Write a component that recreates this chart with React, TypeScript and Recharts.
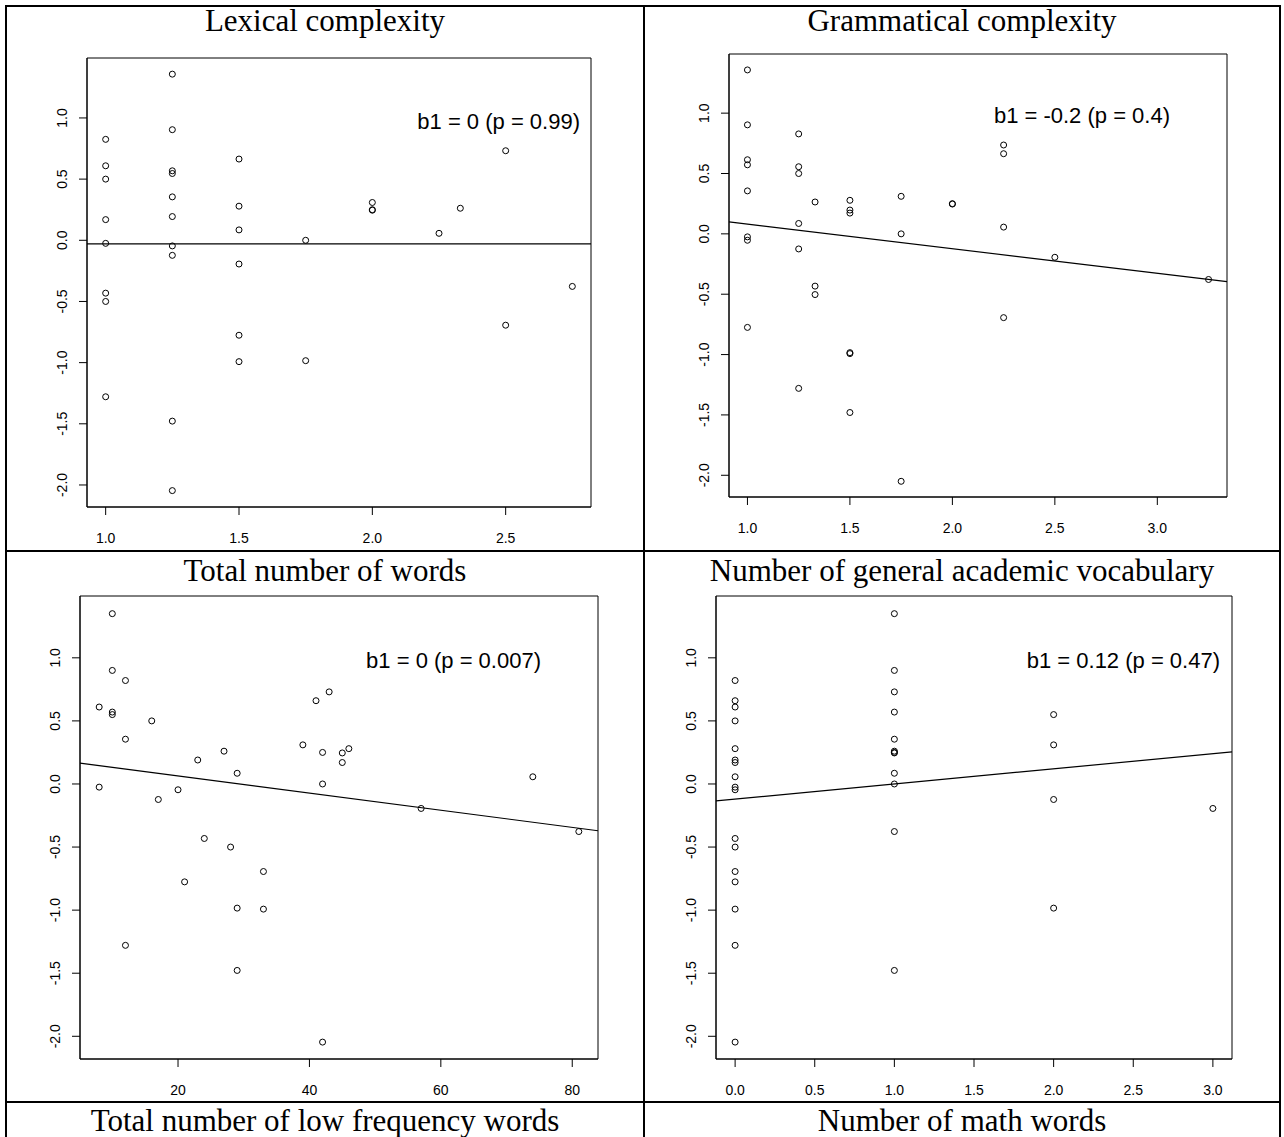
import React from 'react';
import { ScatterChart, Scatter, XAxis, YAxis, ReferenceArea, ReferenceLine } from 'recharts';

const SANS = "'Liberation Sans', Arial, Helvetica, sans-serif";
const SERIF = "'Liberation Serif', 'Times New Roman', serif";

// shared y axis (standardized outcome)
const Y_TICKS = [-2, -1.5, -1, -0.5, 0, 0.5, 1];
const Y_DOMAIN: [number, number] = [-2.18, 1.49];

// Lexical complexity
const lexX = [1, 1, 1, 1, 1, 1, 1, 1,
  1.25, 1.25, 1.25, 1.25, 1.25, 1.25, 1.25, 1.25, 1.25, 1.25,
  1.5, 1.5, 1.5, 1.5, 1.5, 1.5,
  1.75, 1.75,
  2, 2, 2,
  2.25, 2.33,
  2.5, 2.5,
  2.75];
const lexY = [0.825, 0.609, 0.5, 0.169, -0.025, -0.432, -0.5, -1.279,
  1.358, 0.904, 0.568, 0.546, 0.355, 0.194, -0.046, -0.123, -1.478, -2.046,
  0.664, 0.279, 0.085, -0.194, -0.776, -0.992,
  0.0, -0.984,
  0.309, 0.246, 0.25,
  0.057, 0.262,
  0.732, -0.694,
  -0.377];
const lexTicks = [1, 1.5, 2, 2.5];
const lexDomain: [number, number] = [0.93, 2.82];
const lexFit = { a: -0.03, b: 0 };

// Grammatical complexity
const gramX = [1, 1, 1, 1, 1, 1, 1, 1,
  1.25, 1.25, 1.25, 1.25, 1.25, 1.25,
  1.33, 1.33, 1.33,
  1.5, 1.5, 1.5, 1.5, 1.5, 1.5,
  1.75, 1.75, 1.75,
  2, 2,
  2.25, 2.25, 2.25, 2.25,
  2.5, 3.25];
const gramY = [1.358, 0.903, 0.614, 0.572, 0.356, -0.025, -0.053, -0.775,
  0.828, 0.556, 0.5, 0.086, -0.125, -1.28,
  0.264, -0.433, -0.503,
  0.278, 0.197, 0.172, -0.984, -0.992, -1.48,
  0.311, 0.0, -2.05,
  0.247, 0.25,
  0.736, 0.664, 0.056, -0.694,
  -0.194, -0.378];
const gramTicks = [1, 1.5, 2, 2.5, 3];
const gramDomain: [number, number] = [0.91, 3.34];
const gramFit = { a: 0.284, b: -0.2035 };

// Total number of words
const wordsX = [10, 10, 12, 43, 41, 8, 10, 10, 16, 12, 39, 46, 27, 42, 45, 23, 45, 29, 74, 42,
  8, 20, 17, 57, 81, 24, 28, 33, 21, 29, 33, 12, 29, 42];
const wordsY = [1.35, 0.9, 0.82, 0.73, 0.66, 0.61, 0.57, 0.55, 0.5, 0.355, 0.31, 0.28, 0.26, 0.25, 0.246, 0.19, 0.17, 0.085, 0.057, 0.0,
  -0.025, -0.046, -0.123, -0.194, -0.377, -0.432, -0.5, -0.694, -0.776, -0.984, -0.992, -1.279, -1.478, -2.046];
const wordsTicks = [20, 40, 60, 80];
const wordsDomain: [number, number] = [5.08, 83.92];
const wordsFit = { a: 0.2, b: -0.0068 };

// Number of general academic vocabulary
const acadX = [0, 0, 0, 0, 0, 0, 0, 0, 0, 0, 0, 0, 0, 0, 0, 0, 0,
  1, 1, 1, 1, 1, 1, 1, 1, 1, 1, 1, 1,
  2, 2, 2, 2,
  3];
const acadY = [0.82, 0.66, 0.61, 0.5, 0.28, 0.19, 0.17, 0.057, -0.025, -0.046, -0.432, -0.5, -0.694, -0.776, -0.992, -1.279, -2.046,
  1.35, 0.9, 0.73, 0.57, 0.355, 0.26, 0.25, 0.246, 0.085, 0.0, -0.377, -1.478,
  0.55, 0.31, -0.123, -0.984,
  -0.194];
const acadTicks = [0, 0.5, 1, 1.5, 2, 2.5, 3];
const acadDomain: [number, number] = [-0.12, 3.12];
const acadFit = { a: -0.12, b: 0.12 };

const titlesTop = ['Lexical complexity', 'Grammatical complexity'];
const titlesMid = ['Total number of words', 'Number of general academic vocabulary'];
const titlesBottom = ['Total number of low frequency words', 'Number of math words'];
const annotations = ['b1 = 0 (p = 0.99)', 'b1 = -0.2 (p = 0.4)', 'b1 = 0 (p = 0.007)', 'b1 = 0.12 (p = 0.47)'];

const Ring = (props: any) => {
  const { cx, cy } = props;
  if (cx == null || cy == null) return null;
  return <circle cx={cx} cy={cy} r={3} fill="none" stroke="#000" strokeWidth={1} />;
};

const YTick = (props: any) => {
  const { x, y, payload } = props;
  const tx = x - 12;
  return (
    <text x={tx} y={y} transform={`rotate(-90 ${tx} ${y})`} textAnchor="middle"
      fontSize={14} fill="#000" fontFamily={SANS}>
      {Number(payload.value).toFixed(1)}
    </text>
  );
};

type PanelProps = {
  boxX: number; boxY: number; boxW: number; boxH: number;
  xs: number[]; ys: number[]; xDomain: [number, number]; xTicks: number[];
  fit: { a: number; b: number }; xFmt: (v: number) => string;
};

const Panel = (p: PanelProps) => {
  const ML = 50, MT = 5, MR = 5, XH = 45;
  const W = ML + p.boxW + MR;
  const H = MT + p.boxH + XH;
  const data = p.xs.map((x, i) => ({ x, y: p.ys[i] }));
  const [x0, x1] = p.xDomain;
  return (
    <div style={{ position: 'absolute', left: p.boxX - ML, top: p.boxY - MT }}>
      <ScatterChart width={W} height={H} margin={{ top: MT, right: MR, bottom: 0, left: 0 }}>
        <XAxis type="number" dataKey="x" domain={p.xDomain} ticks={p.xTicks} allowDataOverflow
          height={XH} tickSize={8} tickMargin={18} interval={0}
          tick={{ fontSize: 14, fill: '#000', fontFamily: SANS }}
          tickFormatter={p.xFmt} axisLine={{ stroke: '#000' }} tickLine={{ stroke: '#000' }} />
        <YAxis type="number" dataKey="y" domain={Y_DOMAIN} ticks={Y_TICKS} allowDataOverflow
          width={ML} tickSize={8} tickMargin={0} interval={0} tick={YTick}
          axisLine={{ stroke: '#000' }} tickLine={{ stroke: '#000' }} />
        <ReferenceArea x1={x0} x2={x1} y1={Y_DOMAIN[0]} y2={Y_DOMAIN[1]}
          fill="none" fillOpacity={0} stroke="#000" strokeWidth={1} ifOverflow="visible" />
        <ReferenceLine segment={[{ x: x0, y: p.fit.a + p.fit.b * x0 }, { x: x1, y: p.fit.a + p.fit.b * x1 }]}
          stroke="#000" strokeWidth={1.2} ifOverflow="visible" />
        <Scatter data={data} isAnimationActive={false} shape={Ring} />
      </ScatterChart>
    </div>
  );
};

const dec = (v: number) => v.toFixed(1);
const int = (v: number) => String(v);

export default function App() {
  const lineColor = '#000';
  return (
    <div style={{ position: 'absolute', left: 0, top: 0, width: 1284, height: 1137, background: '#fff', overflow: 'hidden' }}>
      <Panel boxX={87} boxY={58} boxW={504} boxH={449} xs={lexX} ys={lexY}
        xDomain={lexDomain} xTicks={lexTicks} fit={lexFit} xFmt={dec} />
      <Panel boxX={729} boxY={54} boxW={498} boxH={443} xs={gramX} ys={gramY}
        xDomain={gramDomain} xTicks={gramTicks} fit={gramFit} xFmt={dec} />
      <Panel boxX={80} boxY={596} boxW={518} boxH={463} xs={wordsX} ys={wordsY}
        xDomain={wordsDomain} xTicks={wordsTicks} fit={wordsFit} xFmt={int} />
      <Panel boxX={716} boxY={596} boxW={516} boxH={463} xs={acadX} ys={acadY}
        xDomain={acadDomain} xTicks={acadTicks} fit={acadFit} xFmt={dec} />
      <svg width={1284} height={1137} style={{ position: 'absolute', left: 0, top: 0, pointerEvents: 'none' }}>
        <rect x={6} y={6} width={1274} height={1140} fill="none" stroke={lineColor} strokeWidth={2} />
        <line x1={644} y1={6} x2={644} y2={1137} stroke={lineColor} strokeWidth={2} />
        <line x1={6} y1={551} x2={1280} y2={551} stroke={lineColor} strokeWidth={2} />
        <line x1={6} y1={1102} x2={1280} y2={1102} stroke={lineColor} strokeWidth={2} />
        <g fontFamily={SERIF} fontSize={31} fill="#000" textAnchor="middle">
          <text x={325} y={31}>{titlesTop[0]}</text>
          <text x={962} y={31}>{titlesTop[1]}</text>
          <text x={325} y={581}>{titlesMid[0]}</text>
          <text x={962} y={581}>{titlesMid[1]}</text>
          <text x={325} y={1131}>{titlesBottom[0]}</text>
          <text x={962} y={1131}>{titlesBottom[1]}</text>
        </g>
        <g fontFamily={SANS} fontSize={22} fill="#000" textAnchor="end">
          <text x={580} y={129}>{annotations[0]}</text>
          <text x={1170} y={123}>{annotations[1]}</text>
          <text x={541} y={668}>{annotations[2]}</text>
          <text x={1220} y={668}>{annotations[3]}</text>
        </g>
      </svg>
    </div>
  );
}
